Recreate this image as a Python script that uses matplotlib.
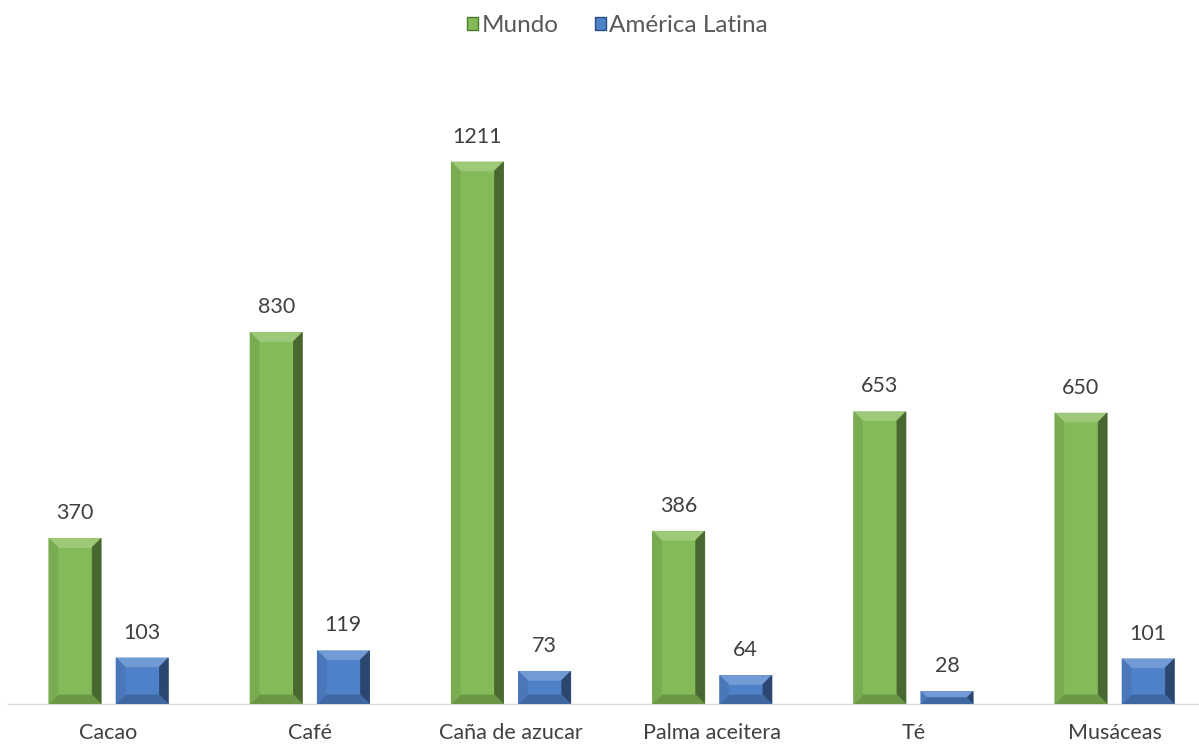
import numpy as np
import matplotlib.pyplot as plt
from matplotlib.patches import Polygon, Patch
from matplotlib.colors import to_rgb

categorias = ["Cacao", "Café", "Caña de azucar", "Palma aceitera", "Té", "Musáceas"]
mundo = [370, 830, 1211, 386, 653, 650]
america_latina = [103, 119, 73, 64, 28, 101]

plt.rcParams['font.family'] = ['Lato', 'DejaVu Sans']

fig = plt.figure(figsize=(11.99, 7.44), dpi=100)
ax = fig.add_axes([8 / 1199, 1 - 704 / 744, 1 - 8 / 1199, 626.7 / 744])

x = np.arange(len(categorias))
ancho = 0.26
desp = 0.167

verde = "#84bb58"
azul = "#4f81c9"
gris = "#404040"


def mezcla(c, f):
    r = np.array(to_rgb(c))
    if f > 0:
        return tuple(r + (1 - r) * f)
    return tuple(r * (1 + f))


def bisel(barras, color, b=9):
    inv = ax.transData.inverted()
    for r in barras:
        x0, y0 = r.get_x(), r.get_y()
        x1, y1 = x0 + r.get_width(), y0 + r.get_height()
        (px0, py0), (px1, py1) = ax.transData.transform([(x0, y0), (x1, y1)])
        bb = min(b, (py1 - py0) / 2, (px1 - px0) / 2)
        a = [(px0, py0), (px1, py0), (px1, py1), (px0, py1)]
        i = [(px0 + bb, py0 + bb), (px1 - bb, py0 + bb), (px1 - bb, py1 - bb), (px0 + bb, py1 - bb)]
        caras = [
            ([a[3], a[2], i[2], i[3]], mezcla(color, 0.2)),    # arriba
            ([a[1], a[2], i[2], i[1]], mezcla(color, -0.45)),  # derecha
            ([a[0], a[1], i[1], i[0]], mezcla(color, -0.2)),   # abajo
            ([a[0], a[3], i[3], i[0]], mezcla(color, -0.08)),  # izquierda
        ]
        for pts, c in caras:
            ax.add_patch(Polygon(inv.transform(pts), closed=True, facecolor=c,
                                 edgecolor=c, linewidth=0.5, zorder=3))


ax.set_xlim(-0.5, -0.5 + 1191 / 201.2)
ax.set_ylim(0, 1400)

b1 = ax.bar(x - desp, mundo, ancho, color=verde, zorder=2)
b2 = ax.bar(x + desp, america_latina, ancho, color=azul, zorder=2)
bisel(b1, verde)
bisel(b2, azul)

for xi, v in zip(x - desp, mundo):
    ax.annotate(str(v), (xi, v), xytext=(0, 11), textcoords="offset points",
                ha="center", va="bottom", fontsize=15.5, color=gris)
for xi, v in zip(x + desp, america_latina):
    ax.annotate(str(v), (xi, v), xytext=(0, 11), textcoords="offset points",
                ha="center", va="bottom", fontsize=15.5, color=gris)

ax.set_xticks(x)
ax.set_xticklabels(categorias, fontsize=15.5, color=gris)
ax.tick_params(axis="x", length=0, pad=14)
ax.set_yticks([])
for s in ["top", "left", "right"]:
    ax.spines[s].set_visible(False)
ax.spines["bottom"].set_color("#d9d9d9")
ax.spines["bottom"].set_linewidth(1)

manejadores = [Patch(facecolor=verde, edgecolor="#4f7a2e", label="Mundo"),
               Patch(facecolor=azul, edgecolor="#2a4f80", label="América Latina")]
fig.legend(handles=manejadores, loc="center", bbox_to_anchor=(0.515, 1 - 26 / 744),
           ncol=2, frameon=False, fontsize=17.5, handlelength=0.45, handleheight=0.45,
           handletextpad=0.15, columnspacing=1.5, labelcolor="#595959")

fig.savefig("out.png", dpi=100)
